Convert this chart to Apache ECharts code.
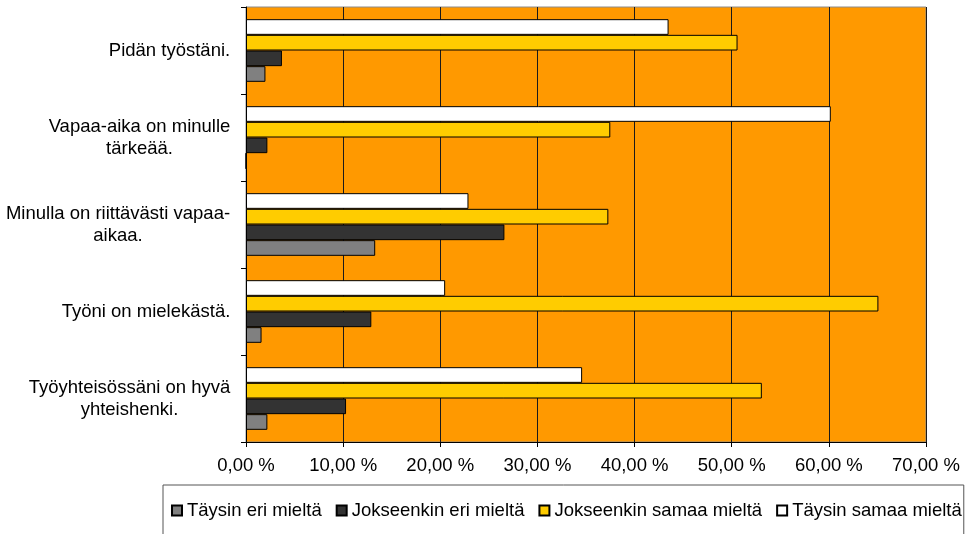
<!DOCTYPE html>
<html>
<head>
<meta charset="utf-8">
<script src="https://cdn.jsdelivr.net/npm/echarts@6/dist/echarts.min.js"></script>
<style>
  html, body { margin: 0; padding: 0; background: #ffffff; }
  #chart { width: 969px; height: 534px; }
</style>
</head>
<body>
<div id="chart"></div>
<script>
// Statements (top to bottom)
const categories = [
  'Pidän työstäni.',
  'Vapaa-aika on minulle\ntärkeää.',
  'Minulla on riittävästi vapaa-\naikaa.',
  'Työni on mielekästä.',
  'Työyhteisössäni on hyvä\nyhteishenki.'
];

// Share of answers per statement, %
const taysinEri = [2.0, 0, 13.3, 1.6, 2.2];
const jokseenkinEri = [3.7, 2.2, 26.6, 12.9, 10.3];
const jokseenkinSamaa = [50.6, 37.5, 37.3, 65.1, 53.1];
const taysinSamaa = [43.5, 60.2, 22.9, 20.5, 34.6];

const seriesNames = ['Täysin eri mieltä', 'Jokseenkin eri mieltä', 'Jokseenkin samaa mieltä', 'Täysin samaa mieltä'];

const FONT = '"Liberation Sans", Arial, sans-serif';
const FONT_SIZE = 18.5;

// Category labels: lines centred inside a block that is right-aligned to the axis.
const ctx = document.createElement('canvas').getContext('2d');
ctx.font = FONT_SIZE + 'px ' + FONT;
const labelRich = {};
categories.forEach(function (c, i) {
  const w = Math.max.apply(null, c.split('\n').map(function (l) { return ctx.measureText(l).width; }));
  labelRich['c' + i] = {
    width: Math.ceil(w) + 1,
    align: 'center',
    fontSize: FONT_SIZE,
    fontFamily: FONT,
    color: '#000000',
    lineHeight: 22
  };
});

const chart = echarts.init(document.getElementById('chart'), null, { renderer: 'canvas' });

function barSeries(name, data, color) {
  return {
    name: name,
    type: 'bar',
    data: data,
    barGap: '0%',
    barCategoryGap: '28%',
    itemStyle: { color: color, borderColor: '#000000', borderWidth: 1 },
    emphasis: { disabled: true },
    animation: false
  };
}

chart.setOption({
  animation: false,
  textStyle: { fontFamily: FONT },
  grid: {
    left: 246, right: 43, top: 7, bottom: 92,
    containLabel: false,
    outerBoundsMode: 'none',
    show: true,
    backgroundColor: '#FF9900',
    borderColor: '#8c8c8c',
    borderWidth: 1
  },
  legend: {
    data: seriesNames,
    left: 163,
    top: 485,
    orient: 'horizontal',
    padding: [16, 2, 40, 8],
    itemGap: 14,
    itemWidth: 10,
    itemHeight: 10,
    borderColor: '#555555',
    borderWidth: 1,
    borderRadius: 0,
    icon: 'rect',
    textStyle: { fontSize: FONT_SIZE, color: '#000000', fontFamily: FONT },
    selectedMode: false
  },
  xAxis: {
    type: 'value',
    min: 0,
    max: 70,
    interval: 10,
    axisLine: { show: true, lineStyle: { color: '#000000', width: 1 } },
    axisTick: { show: true, length: 5, lineStyle: { color: '#000000' } },
    splitLine: { show: true, lineStyle: { color: '#1a1a1a', width: 1 } },
    axisLabel: {
      fontSize: FONT_SIZE,
      color: '#000000',
      margin: 14,
      formatter: function (v) { return v.toFixed(2).replace('.', ',') + ' %'; }
    }
  },
  yAxis: {
    type: 'category',
    data: categories,
    inverse: true,
    axisLine: { show: true, lineStyle: { color: '#000000', width: 1 } },
    axisTick: { show: true, length: 5, alignWithLabel: false, lineStyle: { color: '#000000' } },
    splitLine: { show: false },
    axisLabel: {
      margin: 15,
      align: 'right',
      formatter: function (value, index) {
        return value.split('\n').map(function (l) { return '{c' + index + '|' + l + '}'; }).join('\n');
      },
      rich: labelRich
    }
  },
  series: [
    barSeries(seriesNames[3], taysinSamaa, '#FFFFFF'),
    barSeries(seriesNames[2], jokseenkinSamaa, '#FFCC00'),
    barSeries(seriesNames[1], jokseenkinEri, '#333333'),
    barSeries(seriesNames[0], taysinEri, '#808080')
  ]
});
</script>
</body>
</html>
